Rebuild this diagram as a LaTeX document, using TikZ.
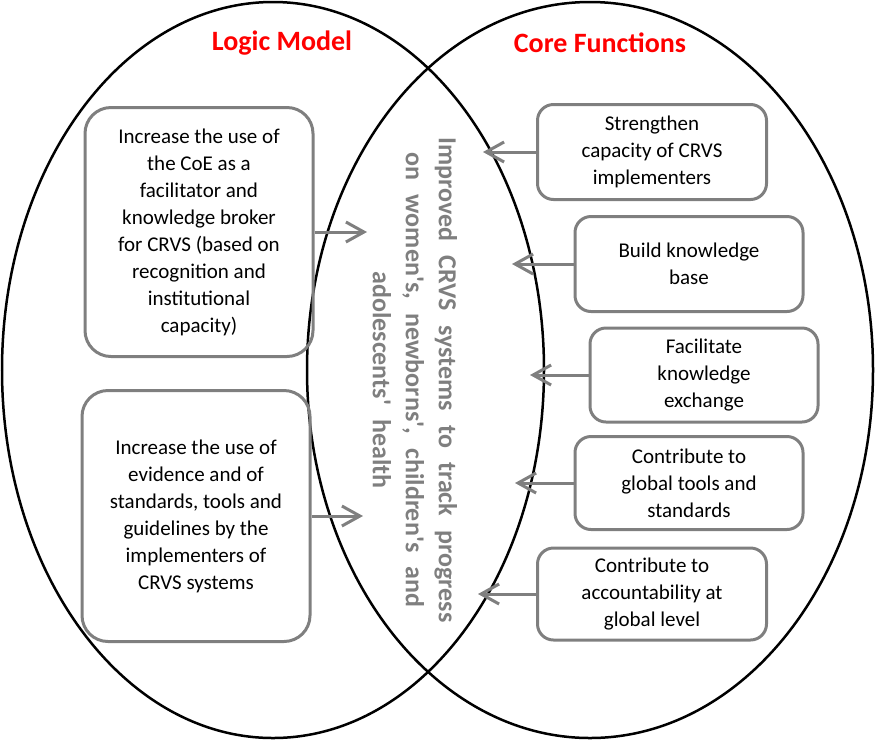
\documentclass[tikz,border=0pt]{standalone}
\usepackage{fontspec}
\setmainfont{Carlito}
\usepackage{xcolor}
\definecolor{boxgray}{HTML}{7F7F7F}
\definecolor{titlered}{HTML}{FF0000}
\usetikzlibrary{arrows.meta, positioning}
\newcommand{\widewords}{\spaceskip=0.55em\relax}

\begin{document}
\begin{tikzpicture}[x=1pt, y=-1pt,
  box/.style={draw=boxgray, line width=3pt, rounded corners=26pt, align=center,
    font=\fontsize{21}{27}\selectfont, inner sep=0pt},
  link/.style={draw=boxgray, line width=3pt, -{Straight Barb[length=18pt, width=20pt]}},
  title/.style={font=\fontsize{28}{32}\selectfont\bfseries, text=titlered},
  goal/.style={font=\fontsize{26}{33}\selectfont\bfseries,
    text=boxgray, align=center, rotate=-90, inner sep=0pt}]

  \useasboundingbox (0,0) rectangle (875,740);

  % Two circles
  \draw[line width=2.5pt] (273,370) ellipse [x radius=271, y radius=368];
  \draw[line width=2.5pt] (590,370) ellipse [x radius=283, y radius=368];

  % Headings
  \node[title] (logic) at (282,43) {Logic Model};
  \node[title] (core)  at (600,43) {Core Functions};

  % Common goal
  \node[goal] (goal) at (415,380) {\widewords Improved CRVS systems to track progress\\
    \widewords on women\textquotesingle s, newborns\textquotesingle, children\textquotesingle s and\\
    \widewords adolescents\textquotesingle{} health};

  % Logic model
  \node[box, minimum width=228pt, minimum height=249pt] (lm1) at (199,232)
    {Increase the use of\\ the CoE as a\\ facilitator and\\ knowledge broker\\
     for CRVS (based on\\ recognition and\\ institutional\\ capacity)};
  \node[box, minimum width=228pt, minimum height=251pt] (lm2) at (196,516)
    {Increase the use of\\ evidence and of\\ standards, tools and\\
     guidelines by the\\ implementers of\\ CRVS systems};

  \coordinate (lt1) at (367,232);
  \coordinate (lt2) at (363,516);
  \draw[link] (lm1.east) -- (lt1);
  \draw[link] (lm2.east) -- (lt2);

  % Core functions
  \node[box, rounded corners=16pt, minimum width=229pt, minimum height=95pt] (cf1) at (652,152)
    {Strengthen\\ capacity of CRVS\\ implementers};
  \node[box, rounded corners=16pt, minimum width=228pt, minimum height=95pt] (cf2) at (689,264)
    {Build knowledge\\ base};
  \node[box, rounded corners=16pt, minimum width=228pt, minimum height=94pt] (cf3) at (704,375)
    {Facilitate\\ knowledge\\ exchange};
  \node[box, rounded corners=16pt, minimum width=228pt, minimum height=93pt] (cf4) at (689,483)
    {Contribute to\\ global tools and\\ standards};
  \node[box, rounded corners=16pt, minimum width=229pt, minimum height=92pt] (cf5) at (652,594)
    {Contribute to\\ accountability at\\ global level};

  \coordinate (ct1) at (483,152);
  \coordinate (ct2) at (512,264);
  \coordinate (ct3) at (530,375);
  \coordinate (ct4) at (515,483);
  \coordinate (ct5) at (478,594);
  \foreach \i in {1,...,5}
    \draw[link] (cf\i.west) -- (ct\i);

\end{tikzpicture}
\end{document}
